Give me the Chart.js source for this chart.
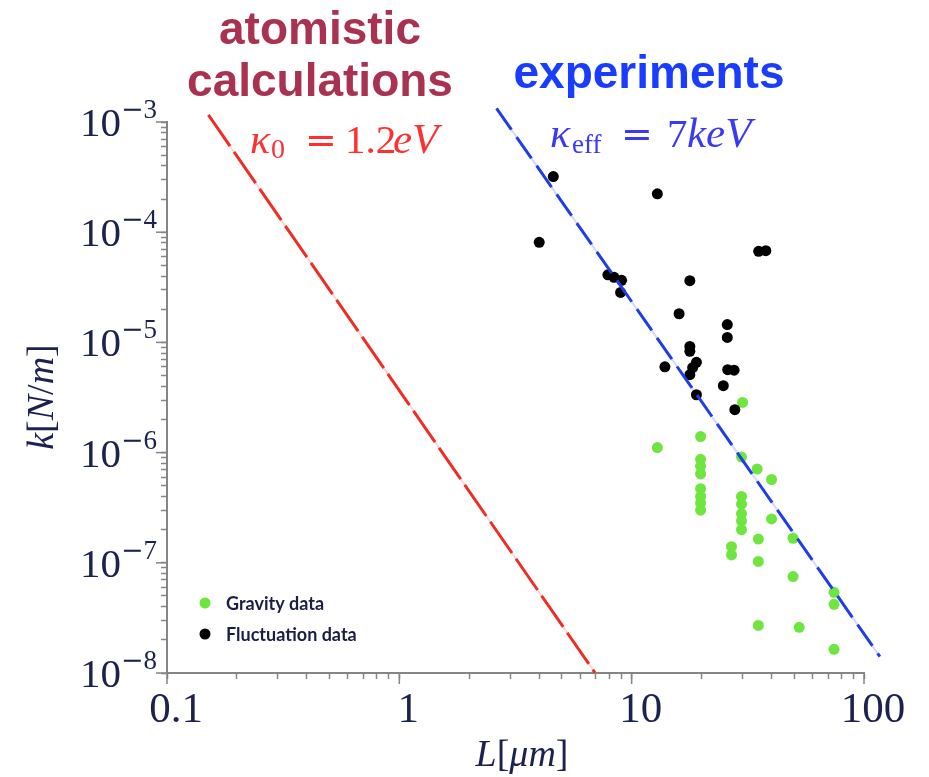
<!DOCTYPE html>
<html><head><meta charset="utf-8">
<script src="https://cdn.jsdelivr.net/npm/chart.js@4.4.1/dist/chart.umd.min.js"></script>
<style>html,body{margin:0;padding:0;background:#fff;} canvas{display:block;}</style>
</head><body>
<canvas id="c" width="929" height="777"></canvas>
<script>
// ---- data ----
const gravityL = [30.0, 12.9, 19.8, 19.8, 19.8, 19.8, 19.8, 19.8, 19.8, 19.8, 29.7, 34.7, 40.0, 29.7, 29.7, 29.7, 29.7, 29.7, 40.0, 49.5, 35.1, 26.9, 26.9, 35.1, 49.5, 74.3, 74.3, 35.1, 52.6, 74.3];
const gravityK = [2.85e-6, 1.11e-6, 1.40e-6, 8.7e-7, 7.5e-7, 6.4e-7, 4.7e-7, 4.0e-7, 3.5e-7, 3.0e-7, 9.1e-7, 7.1e-7, 5.7e-7, 4.0e-7, 3.4e-7, 2.8e-7, 2.4e-7, 2.0e-7, 2.5e-7, 1.67e-7, 1.64e-7, 1.40e-7, 1.18e-7, 1.03e-7, 7.5e-8, 5.4e-8, 4.2e-8, 2.7e-8, 2.6e-8, 1.64e-8];
const fluctuationL = [4.6, 12.9, 4.0, 35.2, 37.8, 7.9, 8.4, 9.05, 8.96, 17.8, 16.0, 25.8, 25.8, 17.8, 17.8, 19.0, 18.3, 17.8, 13.9, 25.9, 27.6, 24.8, 19.0, 27.8];
const fluctuationK = [3.2e-4, 2.23e-4, 8.1e-5, 6.7e-5, 6.8e-5, 4.1e-5, 3.9e-5, 3.66e-5, 2.84e-5, 3.63e-5, 1.82e-5, 1.45e-5, 1.11e-5, 9.2e-6, 8.3e-6, 6.6e-6, 5.9e-6, 5.1e-6, 6.0e-6, 5.65e-6, 5.6e-6, 4.05e-6, 3.35e-6, 2.45e-6];
const atomisticL = [0.1507, 6.96];
const atomisticK = [1.16e-3, 1.0e-8];
const experimentL = [2.62, 117];
const experimentK = [1.33e-3, 1.41e-8];

const seriesLabels = ['Gravity data', 'Fluctuation data'];
const xMajorTicks = [0.1, 1, 10, 100];
const xTickLabels = ['0.1', '1', '10', '100'];
const yMajorTicks = [1e-8, 1e-7, 1e-6, 1e-5, 1e-4, 1e-3];
const yTickBase = '10';
const yTickExponents = ['8', '7', '6', '5', '4', '3'];
const headerLines = ['atomistic', 'calculations', 'experiments'];

const pts = (xs, ys) => xs.map((x, i) => ({x: x, y: ys[i]}));
const minorTicks = (majors) => {
  const out = [];
  for (let i = 0; i < majors.length - 1; i++) {
    for (let m = 1; m <= 9; m++) out.push({value: majors[i] * m, major: m === 1});
  }
  out.push({value: majors[majors.length - 1], major: true});
  return out;
};

const AX = '#858585';
const LABEL = '#1c2150';

function runs(ctx, parts, x, y, align) {
  let total = 0;
  parts.forEach(p => { ctx.font = p[1]; total += ctx.measureText(p[0]).width; });
  let cx = align === 'center' ? x - total / 2 : (align === 'right' ? x - total : x);
  ctx.textAlign = 'left';
  parts.forEach(p => { ctx.font = p[1]; ctx.fillText(p[0], cx, y + (p[2] || 0)); cx += ctx.measureText(p[0]).width; });
}

const textPlugin = {
  id: 'texts',
  afterDraw(chart) {
    const ctx = chart.ctx;
    const xs = chart.scales.x, ys = chart.scales.y;
    ctx.save();
    // longer major ticks
    ctx.strokeStyle = AX; ctx.lineWidth = 1.5;
    xMajorTicks.forEach(v => { const px = xs.getPixelForValue(v); ctx.beginPath(); ctx.moveTo(px, xs.top); ctx.lineTo(px, xs.top + 11); ctx.stroke(); });
    yMajorTicks.forEach(v => { const py = ys.getPixelForValue(v); ctx.beginPath(); ctx.moveTo(ys.right, py); ctx.lineTo(ys.right - 11, py); ctx.stroke(); });

    // x tick labels
    ctx.fillStyle = LABEL;
    ctx.textBaseline = 'alphabetic';
    ctx.font = '43px "Liberation Serif"';
    ctx.textAlign = 'center';
    xMajorTicks.forEach((v, i) => ctx.fillText(xTickLabels[i], xs.getPixelForValue(v) + 9, 722));
    // y tick labels: 10 with raised exponent
    yMajorTicks.forEach((v, i) => {
      const py = ys.getPixelForValue(v);
      runs(ctx, [
        [yTickBase, '41px "Liberation Serif"', 14],
        ['\u2212', '27px "DejaVu Serif"', -4],
        [yTickExponents[i], '27px "Liberation Serif"', -4]
      ], ys.right - 10, py, 'right');
    });

    // axis titles
    runs(ctx, [['L', 'italic 38px "Liberation Serif"'], ['[', '38px "Liberation Serif"'], ['\u03bcm', 'italic 38px "Liberation Serif"'], [']', '38px "Liberation Serif"']], 522, 766, 'center');
    ctx.save();
    ctx.translate(53, 397);
    ctx.rotate(-Math.PI / 2);
    runs(ctx, [['k', 'italic 38px "Liberation Serif"'], ['[', '38px "Liberation Serif"'], ['N', 'italic 38px "Liberation Serif"'], ['/', '38px "Liberation Serif"'], ['m', 'italic 38px "Liberation Serif"'], [']', '38px "Liberation Serif"']], 0, 0, 'center');
    ctx.restore();

    // header texts
    ctx.textAlign = 'center';
    ctx.font = 'bold 46px "Liberation Sans"';
    ctx.fillStyle = '#a8324f';
    ctx.fillText(headerLines[0], 320, 44);
    ctx.fillText(headerLines[1], 320, 96);
    ctx.fillStyle = '#1a3cff';
    ctx.fillText(headerLines[2], 649, 88);

    // kappa labels
    ctx.textAlign = 'left';
    ctx.fillStyle = '#ff3030';
    ctx.font = 'italic 42px "Liberation Serif"'; ctx.fillText('\u03ba', 250, 153);
    ctx.font = '28px "Liberation Serif"'; ctx.fillText('0', 271, 158);
    ctx.font = '38px "DejaVu Serif"'; ctx.fillText('=', 305, 153);
    ctx.font = '41px "Liberation Serif"'; ctx.fillText('1.2', 345, 153);
    ctx.font = 'italic 43px "Liberation Serif"'; ctx.fillText('eV', 393, 153);

    ctx.fillStyle = '#3a3af5';
    ctx.font = 'italic 42px "Liberation Serif"'; ctx.fillText('\u03ba', 550, 147);
    ctx.font = '27px "Liberation Serif"'; ctx.fillText('eff', 572, 153);
    ctx.font = '38px "DejaVu Serif"'; ctx.fillText('=', 621, 147);
    ctx.font = '41px "Liberation Serif"'; ctx.fillText('7', 667, 147);
    ctx.font = 'italic 43px "Liberation Serif"'; ctx.fillText('keV', 687, 147);

    // legend (inside the plot)
    const ds = chart.data.datasets;
    const legendItems = [ds[0], ds[1]];
    const ly = [603, 634];
    legendItems.forEach((d, i) => {
      ctx.beginPath();
      ctx.fillStyle = d.backgroundColor;
      ctx.arc(205, ly[i], 5.5, 0, Math.PI * 2);
      ctx.fill();
      ctx.fillStyle = '#1a1d45';
      ctx.font = 'bold 18px Lato';
      ctx.textBaseline = 'middle';
      ctx.fillText(d.label, 226, ly[i] + 1);
      ctx.textBaseline = 'alphabetic';
    });
    ctx.restore();
  }
};

const axisCommon = {
  type: 'logarithmic',
  ticks: {display: false},
  grid: {display: true, drawOnChartArea: false, drawTicks: true, tickLength: 6, tickColor: AX, tickWidth: 1.5},
  border: {display: true, color: AX, width: 2}
};

new Chart(document.getElementById('c').getContext('2d'), {
  type: 'scatter',
  data: {
    datasets: [
      {label: seriesLabels[0], data: pts(gravityL, gravityK), backgroundColor: '#6fe640', borderWidth: 0, pointRadius: 5.5, order: 3},
      {label: seriesLabels[1], data: pts(fluctuationL, fluctuationK), backgroundColor: '#000000', borderWidth: 0, pointRadius: 5.5, order: 2},
      {type: 'line', label: 'atomistic underlay', data: pts(atomisticL, atomisticK), borderColor: '#ffd6d6', borderWidth: 2, pointRadius: 0, fill: false, clip: false, order: 6},
      {type: 'line', label: 'experiments underlay', data: pts(experimentL, experimentK), borderColor: '#d6d8ff', borderWidth: 2, pointRadius: 0, fill: false, clip: false, order: 6},
      {type: 'line', label: 'atomistic', data: pts(atomisticL, atomisticK), borderColor: '#ee2e24', borderWidth: 3, borderDash: [38, 7], pointRadius: 0, fill: false, clip: false, order: 0},
      {type: 'line', label: 'experiments', data: pts(experimentL, experimentK), borderColor: '#1f3ee6', borderWidth: 3, borderDash: [26, 9], pointRadius: 0, fill: false, clip: false, order: 1}
    ]
  },
  options: {
    responsive: false,
    animation: false,
    devicePixelRatio: 1,
    layout: {padding: {top: 122, right: 65, left: 0, bottom: 0}},
    plugins: {legend: {display: false}, tooltip: {enabled: false}},
    scales: {
      x: Object.assign({}, axisCommon, {
        position: 'bottom', min: 0.1, max: 100,
        afterBuildTicks: s => { s.ticks = minorTicks(xMajorTicks); },
        afterFit: s => { s.height = 104; }
      }),
      y: Object.assign({}, axisCommon, {
        position: 'left', min: 1e-8, max: 1e-3,
        afterBuildTicks: s => { s.ticks = minorTicks(yMajorTicks); },
        afterFit: s => { s.width = 167; }
      })
    }
  },
  plugins: [textPlugin]
});
</script>
</body></html>
